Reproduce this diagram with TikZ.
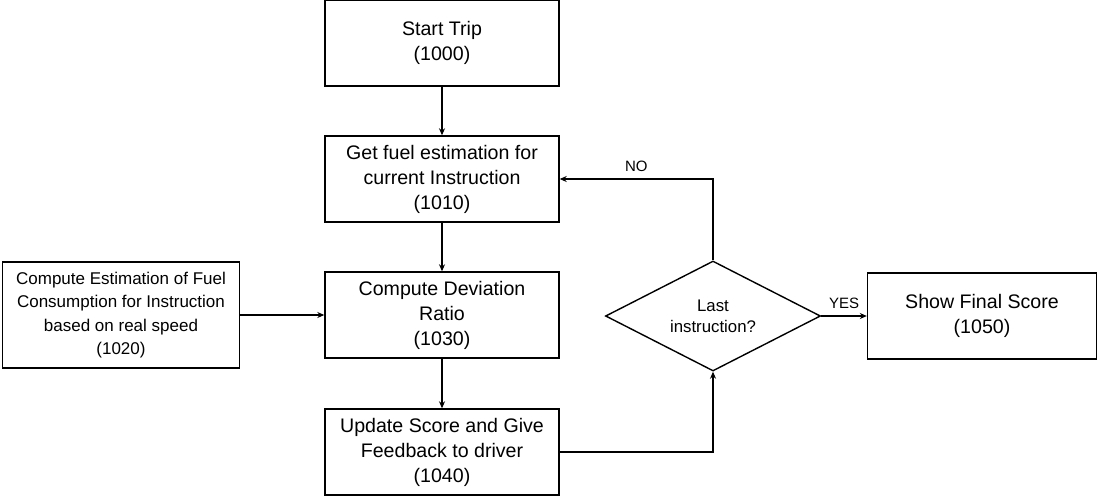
\documentclass[tikz,border=0pt]{standalone}
\usepackage{fontspec}
\setmainfont{Liberation Sans}
\usetikzlibrary{shapes.geometric, arrows.meta}

\tikzset{
  stepbox/.style={draw, line width=0.7pt, minimum width=117pt, minimum height=43pt,
    inner sep=0pt, align=center, font=\fontsize{9.8}{12.5}\selectfont},
  sidebox/.style={stepbox, minimum width=118.5pt, minimum height=53pt,
    font=\fontsize{8.5}{11.6}\selectfont},
  askbox/.style={draw, diamond, aspect=2, line width=0.7pt, minimum width=107.5pt,
    minimum height=55pt, inner sep=0pt, align=center, font=\fontsize{8.4}{10.5}\selectfont},
  tag/.style={font=\fontsize{7.5}{9}\selectfont}
}

\begin{document}
\begin{tikzpicture}[x=0.5pt, y=-0.5pt, line width=0.7pt, >={Stealth[length=3.5pt, width=3pt]}]
    \useasboundingbox (0, 0) rectangle (1102, 498);
    % middle column
    \node [stepbox] (start) at (442, 43)  {Start Trip\\(1000)};
    \node [stepbox] (fuel)  at (442, 179) {Get fuel estimation for\\current Instruction\\(1010)};
    \node [stepbox] (ratio) at (442, 315) {Compute Deviation\\Ratio\\(1030)};
    \node [stepbox] (score) at (442, 452) {Update Score and Give\\Feedback to driver\\(1040)};
    % left box
    \node [sidebox] (speed) at (121, 315) {Compute Estimation of Fuel\\Consumption for Instruction\\based on real speed\\(1020)};
    % decision and end
    \node [askbox] (last) at (713, 316) {Last\\instruction?};
    \node [stepbox, minimum width=114.5pt] (final) at (982, 316) {Show Final Score\\(1050)};
    % arrows
    \draw [->] (start) -- (fuel);
    \draw [->] (fuel) -- (ratio);
    \draw [->] (ratio) -- (score);
    \draw [->] (speed) -- (ratio);
    \draw [->] (score.east) -| (last.south);
    \draw [->] (last.north) |- node [tag, pos=0.75, above] {NO} (fuel.east);
    \draw [->] (last) -- node [tag, above] {YES} (final);
\end{tikzpicture}
\end{document}
